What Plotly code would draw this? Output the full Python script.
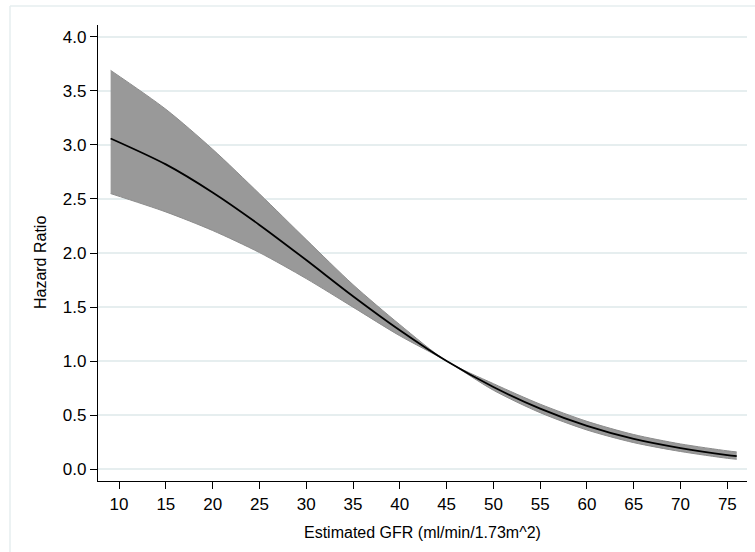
import plotly.graph_objects as go

# Estimated GFR knots and spline estimates of the hazard ratio (reference: 45)
egfr = [9.1, 15, 20, 25, 30, 35, 40, 45, 50, 55, 60, 65, 70, 75, 76]
hr = [3.06, 2.82, 2.56, 2.26, 1.935, 1.60, 1.285, 1.00, 0.76,
      0.56, 0.40, 0.28, 0.195, 0.13, 0.12]
hr_upper = [3.69, 3.33, 2.96, 2.548, 2.124, 1.707, 1.337, 1.00,
            0.791, 0.601, 0.442, 0.320, 0.233, 0.169, 0.159]
hr_lower = [2.55, 2.38, 2.208, 2.004, 1.763, 1.499, 1.234, 1.00,
            0.730, 0.522, 0.362, 0.245, 0.163, 0.100, 0.091]

x_ticks = list(range(10, 80, 5))
y_ticks = [0.0, 0.5, 1.0, 1.5, 2.0, 2.5, 3.0, 3.5, 4.0]

FONT = "Liberation Sans, Arial, Helvetica, sans-serif"
BAND_EDGE = "#8c8c8c"
GRID = "#e6eeef"

fig = go.Figure()

# 95% confidence band: lower bound, then upper bound filled down to it
fig.add_trace(go.Scatter(
    x=egfr, y=hr_lower, mode="lines",
    line=dict(color=BAND_EDGE, width=1, shape="spline", smoothing=0.8),
    hoverinfo="skip", showlegend=False,
))
fig.add_trace(go.Scatter(
    x=egfr, y=hr_upper, mode="lines",
    fill="tonexty", fillcolor="#999999",
    line=dict(color=BAND_EDGE, width=1, shape="spline", smoothing=0.8),
    hoverinfo="skip", showlegend=False,
))

# point estimate
fig.add_trace(go.Scatter(
    x=egfr, y=hr, mode="lines",
    line=dict(color="black", width=1.8, shape="spline", smoothing=0.8),
    showlegend=False,
))

fig.update_layout(
    width=755, height=552,
    margin=dict(l=98, r=8, t=25, b=71),
    paper_bgcolor="white",
    plot_bgcolor="white",
    font=dict(family=FONT, size=16, color="black"),
    shapes=[
        # light outer frame of the graph region
        dict(type="line", xref="paper", yref="paper",
             x0=-0.1356, x1=1.2, y0=1.0417, y1=1.0417,
             line=dict(color=GRID, width=1.5)),
        dict(type="line", xref="paper", yref="paper",
             x0=-0.1356, x1=-0.1356, y0=-0.3, y1=1.0417,
             line=dict(color=GRID, width=1.5)),
    ],
    annotations=[
        dict(text="Hazard Ratio", textangle=-90, xref="paper", yref="paper",
             x=-0.0893, y=0.478, showarrow=False,
             font=dict(family=FONT, size=16), xanchor="center",
             yanchor="middle"),
        dict(text="Estimated GFR (ml/min/1.73m^2)", xref="paper",
             yref="paper", x=0.5, y=-0.112, showarrow=False,
             font=dict(family=FONT, size=16), xanchor="center",
             yanchor="middle"),
    ],
)

fig.update_xaxes(
    range=[7.75, 77.1],
    tickvals=x_ticks,
    ticks="outside", ticklen=7, tickwidth=1, tickcolor="black",
    showline=True, linecolor="black", linewidth=1.3,
    showgrid=False, zeroline=False,
    tickfont=dict(family=FONT, size=17),
)
fig.update_yaxes(
    range=[-0.11, 4.11],
    tickvals=y_ticks, tickformat=".1f",
    ticks="outside", ticklen=7, tickwidth=1, tickcolor="black",
    showline=True, linecolor="black", linewidth=1.3,
    showgrid=True, gridcolor=GRID, gridwidth=1.5,
    zeroline=False,
    tickfont=dict(family=FONT, size=17),
)

fig.write_html("out.html")
